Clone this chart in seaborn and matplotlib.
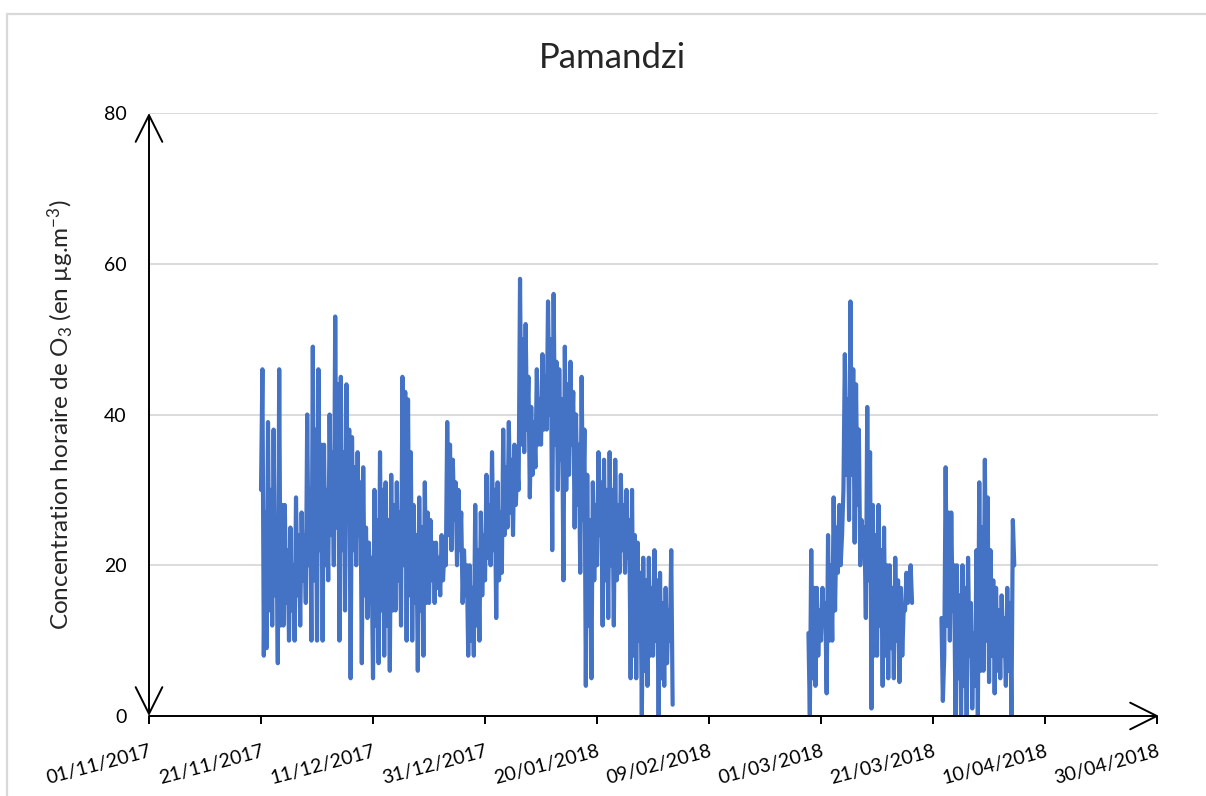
import numpy as np
import pandas as pd
import matplotlib
matplotlib.use("Agg")
import matplotlib.pyplot as plt
import matplotlib.dates as mdates
from matplotlib.patches import Rectangle
import seaborn as sns

sns.set_theme(style="white")
plt.rcParams['font.family'] = ['Lato', 'DejaVu Sans']
plt.rcParams['mathtext.default'] = 'regular'

# O3 at Pamandzi (one value every 6 hours)
seg1_start = "2017-11-21 00:00"
seg1_o3 = [30, 46, 8, 27, 9, 39, 14, 30, 12, 38, 16, 25, 7, 46, 12, 28,
           12, 28, 15, 22, 10, 25, 14, 20, 10, 29, 16, 24, 12, 27, 18, 24,
           15, 40, 20, 30, 10, 49, 18, 38, 10, 46, 22, 36, 10, 36, 20, 30,
           18, 40, 24, 35, 20, 53, 25, 44, 10, 45, 22, 35, 14, 44, 26, 38,
           5, 37, 22, 33, 20, 35, 24, 31, 7, 33, 16, 25, 13, 23, 15, 21,
           5, 30, 12, 26, 7, 35, 14, 30, 8, 31, 12, 26, 6, 32, 14, 28,
           14, 31, 18, 27, 12, 45, 20, 43, 10, 42, 16, 35, 10, 28, 15, 24,
           6, 29, 14, 25, 8, 31, 15, 27, 15, 26, 18, 23, 15, 23, 17, 21,
           16, 24, 18, 22, 20, 39, 24, 36, 22, 34, 26, 31, 20, 30, 22, 27,
           15, 22, 16, 20, 8, 20, 10, 17, 8, 28, 12, 22, 10, 27, 16, 24,
           18, 32, 21, 28, 20, 35, 22, 30, 13, 31, 18, 27, 19, 38, 24, 33,
           25, 39, 27, 34, 24, 36, 28, 33, 30, 58, 36, 50, 35, 52, 38, 45,
           29, 41, 32, 39, 33, 46, 36, 42, 36, 48, 38, 45, 38, 55, 40, 50,
           22, 56, 36, 47, 30, 46, 34, 42, 18, 49, 30, 44, 32, 47, 36, 43,
           25, 40, 28, 36, 19, 45, 26, 38, 4, 32, 12, 26, 5, 31, 18, 28,
           20, 35, 24, 31, 12, 34, 18, 30, 13, 35, 20, 30, 12, 34, 18, 28,
           19, 32, 22, 28, 19, 30, 21, 26, 5, 30, 8, 24, 5, 23, 10, 19,
           0, 21, 6, 18, 4, 21, 8, 17, 8, 22, 10, 18, 0, 19, 5, 15,
           4, 17, 7, 14, 10, 22, 1.5]

seg2_start = "2018-02-26 18:00"
seg2_o3 = [11, 0, 22, 5, 17, 4, 17, 8, 14, 10, 17, 12, 15, 3, 24, 10, 20,
           10, 29, 14, 25, 19, 28, 20, 24, 30, 48, 32, 42, 26, 55, 32, 46,
           23, 44, 28, 38, 20, 26, 22, 25, 13, 41, 18, 35, 1, 28, 8, 24,
           8, 28, 12, 22, 4, 25, 8, 20, 5, 20, 9, 17, 5, 21, 10, 18,
           4.5, 17, 8, 14, 14, 19, 15, 18, 20, 15]

seg3_start = "2018-03-22 12:00"
seg3_o3 = [13, 2, 8, 33, 12, 27, 10, 27, 14, 20, 0, 20, 5, 16, 0, 20, 4, 17,
           0, 21, 8, 15, 1, 11, 4, 22, 0, 31, 6, 25, 6, 34, 10, 29,
           4.5, 22, 8, 18, 3, 17, 6, 14, 5, 16, 8, 13, 4, 17, 6, 15, 0, 26, 20]

tick_dates = pd.date_range("2017-11-01", periods=10, freq="20D")

frames = []
for i, (start, vals) in enumerate([(seg1_start, seg1_o3), (seg2_start, seg2_o3), (seg3_start, seg3_o3)]):
    frames.append(pd.DataFrame({
        "time": pd.date_range(start, periods=len(vals), freq="6h"),
        "o3": vals,
        "seg": i,
    }))
df = pd.concat(frames, ignore_index=True)

fig = plt.figure(figsize=(12.06, 7.96), dpi=100)
ax = fig.add_axes([149 / 1206, 1 - 716 / 796, (1158 - 149) / 1206, (716 - 113) / 796])

sns.lineplot(data=df, x="time", y="o3", units="seg", estimator=None,
             color="#4472C4", linewidth=3.0, ax=ax, legend=False)

ax.set_ylim(0, 80)
ax.set_yticks([0, 20, 40, 60, 80])
ax.set_xlim(tick_dates[0], tick_dates[-1] + pd.Timedelta(hours=4))
ax.set_xticks(tick_dates)
ax.xaxis.set_major_formatter(mdates.DateFormatter("%d/%m/%Y"))

for s in ax.spines.values():
    s.set_visible(False)
ax.yaxis.grid(True, color="#d9d9d9", linewidth=1.3)
ax.xaxis.grid(False)
ax.tick_params(axis="y", length=0, pad=16, labelsize=14, colors="black")
ax.tick_params(axis="x", length=6, width=1.4, direction="out", pad=13,
               labelsize=14, colors="black", bottom=True)
for lbl in ax.get_xticklabels():
    lbl.set_rotation(15)
    lbl.set_ha("right")
    lbl.set_va("top")
    lbl.set_rotation_mode("anchor")

# axis lines with arrow heads
arrow = dict(arrowstyle="->,head_length=1.2,head_width=0.6", color="black",
             lw=1.4, shrinkA=0, shrinkB=0, mutation_scale=16)
ax.annotate("", xy=(0, 1), xytext=(0, 0), xycoords="axes fraction",
            arrowprops=dict(arrow, arrowstyle="<->,head_length=1.2,head_width=0.6"),
            annotation_clip=False)
ax.annotate("", xy=(1.001, 0), xytext=(0, 0), xycoords="axes fraction",
            arrowprops=arrow, annotation_clip=False)

ax.set_xlabel("")
ax.set_ylabel("Concentration horaire de O$_3$ (en µg.m$^{-3}$)", fontsize=17.5, labelpad=20)
fig.text(612 / 1206, 1 - 58 / 796, "Pamandzi", fontsize=25, ha="center", va="center")

fig.patches.append(Rectangle((7 / 1206, -0.05), 1.1, 1 - 14 / 796 + 0.05,
                             transform=fig.transFigure, fill=False,
                             edgecolor="#d9d9d9", linewidth=1.6))

fig.savefig("out.png", dpi=100)
